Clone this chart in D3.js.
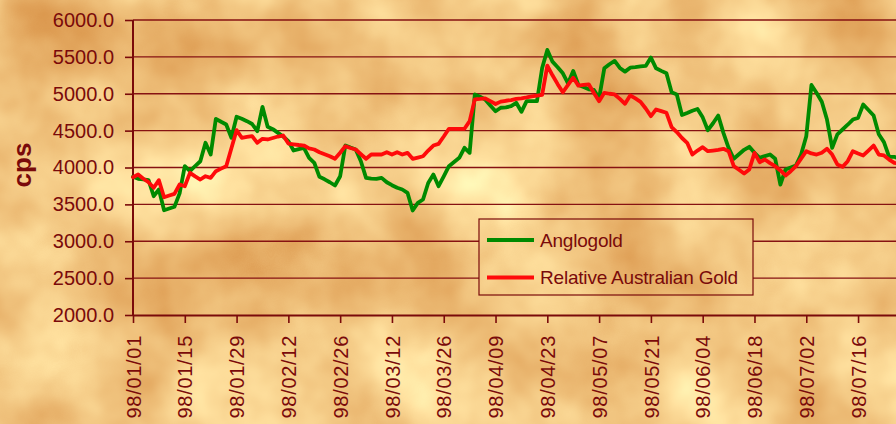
<!DOCTYPE html>
<html><head><meta charset="utf-8">
<script src="https://cdn.jsdelivr.net/npm/d3@7"></script>
<style>
html,body{margin:0;padding:0;overflow:hidden;background:#F0C47E;}
text{font-family:"Liberation Sans",Arial,sans-serif;fill:#7A0A0A;}
</style></head>
<body>
<svg id="chart" width="896" height="424"></svg>
<script>
// ---- data ----
const seriesNames = ["Anglogold", "Relative Australian Gold"];
const seriesColors = ["#008A00", "#FF0A0A"];
const tickLabels = ["98/01/01","98/01/15","98/01/29","98/02/12","98/02/26","98/03/12","98/03/26",
  "98/04/09","98/04/23","98/05/07","98/05/21","98/06/04","98/06/18","98/07/02","98/07/16"];
const yTicks = [2000,2500,3000,3500,4000,4500,5000,5500,6000];
const anglogold = [3874,3847,3838,3828,3611,3702,3421,3444,3467,3650,
  4018,3950,4020,4085,4335,4176,4660,4620,4583,4403,
  4688,4660,4628,4590,4492,4823,4552,4520,4470,4420,
  4357,4230,4250,4267,4131,4064,3874,3840,3800,3756,
  3882,4298,4270,4244,4085,3860,3850,3845,3860,3800,
  3760,3725,3702,3657,3417,3521,3566,3790,3905,3746,
  3880,4018,4075,4131,4267,4199,4990,4960,4922,4840,
  4763,4810,4815,4831,4877,4755,4899,4899,4899,5350,
  5594,5435,5360,5277,5142,5309,5119,5090,5060,5051,
  4938,5345,5400,5445,5350,5300,5354,5360,5370,5377,
  5490,5345,5310,5277,5019,4991,4712,4740,4770,4793,
  4680,4506,4600,4705,4470,4267,4118,4180,4240,4281,
  4199,4131,4155,4176,4118,3769,3973,4000,4027,4176,
  4424,5119,5010,4892,4650,4267,4450,4515,4580,4650,
  4673,4854,4780,4705,4450,4344,4145,4145,4120];
const relAustralianGold = [3868,3905,3847,3801,3725,3828,3597,3620,3643,3769,
  3746,3928,3880,3837,3882,3860,3950,3985,4018,4262,
  4506,4403,4414,4425,4335,4389,4380,4400,4420,4434,
  4325,4315,4305,4298,4260,4244,4207,4180,4153,4118,
  4200,4289,4265,4244,4180,4118,4176,4176,4176,4207,
  4176,4207,4176,4199,4118,4135,4153,4230,4298,4321,
  4420,4525,4525,4525,4525,4628,4925,4930,4938,4900,
  4861,4893,4905,4915,4930,4938,4950,4965,4975,4984,
  5381,5250,5130,5020,5120,5218,5110,5120,5128,5010,
  4899,5013,5000,4990,4930,4864,4977,4936,4891,4800,
  4696,4787,4765,4742,4547,4480,4400,4335,4176,4230,
  4275,4221,4230,4240,4253,4221,4018,3970,3919,3973,
  4199,4072,4108,4060,4018,3960,3892,3950,4018,4120,
  4221,4190,4176,4200,4253,4176,4041,4009,4085,4221,
  4190,4163,4230,4298,4176,4163,4108,4063,4050];

(function () {
// categories: week days starting 1998-01-01
const fmt = d3.utcFormat("%y/%m/%d");
const categories = d3.utcDay.range(new Date(Date.UTC(1998,0,1)), new Date(Date.UTC(1998,8,1)))
  .filter(d => d.getUTCDay() !== 0 && d.getUTCDay() !== 6)
  .slice(0, anglogold.length).map(fmt);

// ---- layout ----
const W = 896, H = 424;
const mLeft = 133, mTop = 20, mBottom = 315;
const step = 5.179;
const mRight = mLeft + step * (categories.length - 1);
const maroon = "#7A0A0A";

const svg = d3.select("#chart");
const defs = svg.append("defs");
const f = defs.append("filter").attr("id","paper")
  .attr("filterUnits","userSpaceOnUse").attr("primitiveUnits","userSpaceOnUse")
  .attr("x",0).attr("y",0).attr("width",W).attr("height",H)
  .attr("color-interpolation-filters","sRGB");
f.append("feTurbulence").attr("type","fractalNoise").attr("baseFrequency","0.009 0.009")
  .attr("numOctaves",4).attr("seed",5).attr("result","n");
f.append("feColorMatrix").attr("type","matrix")
  .attr("values","-0.22 0 0 0 1.06  -0.45 0 0 0 1.005  -0.5 0 0 0 0.76  0 0 0 0 1");

defs.append("clipPath").attr("id","legclip").append("rect")
  .attr("x",479).attr("y",219).attr("width",274).attr("height",76);

svg.append("rect").attr("width",W).attr("height",H).attr("fill","#F0C47E").attr("filter","url(#paper)");

const x = d3.scalePoint().domain(categories).range([mLeft, mRight]);
const y = d3.scaleLinear().domain([2000, 6000]).range([mBottom, mTop]);

// gridlines
svg.append("g").selectAll("line").data(yTicks.filter(v => v > 2000)).join("line")
  .attr("x1", mLeft).attr("x2", W + 10)
  .attr("y1", d => y(d)).attr("y2", d => y(d))
  .attr("stroke", "#861212").attr("stroke-width", 1.4);

// legend background (same paper texture, hides gridlines)
svg.append("rect").attr("width",W).attr("height",H).attr("fill","#F0C47E")
  .attr("filter","url(#paper)").attr("clip-path","url(#legclip)");

// axes
const yAxis = svg.append("g").attr("transform", `translate(${mLeft},0)`)
  .call(d3.axisLeft(y).tickValues(yTicks).tickSize(8).tickPadding(11).tickFormat(d3.format(".1f")));
yAxis.selectAll("text").attr("font-size", 20).attr("fill", maroon)
  .style("font-family","'Liberation Sans',Arial,sans-serif");
yAxis.selectAll("line").attr("stroke", maroon).attr("stroke-width", 1.6);
yAxis.select(".domain").attr("stroke", maroon).attr("stroke-width", 2).attr("d", `M0,${mBottom}V${mTop}`);

const xAxis = svg.append("g").attr("transform", `translate(0,${mBottom})`)
  .call(d3.axisBottom(x).tickValues(tickLabels).tickSize(8).tickSizeOuter(0));
xAxis.select(".domain").attr("stroke", maroon).attr("stroke-width", 2);
xAxis.selectAll("line").attr("stroke", maroon).attr("stroke-width", 1.6);
xAxis.selectAll("text")
  .attr("font-size", 20).attr("fill", maroon).attr("letter-spacing", "0.7px")
  .style("font-family","'Liberation Sans',Arial,sans-serif")
  .attr("text-anchor", "end")
  .attr("transform", "rotate(-90)")
  .attr("x", -20).attr("y", 0).attr("dy", "0.36em");

// y axis title
svg.append("text").attr("transform", "translate(31,165) rotate(-90)")
  .attr("text-anchor", "middle").attr("font-size", 26).attr("font-weight", "bold")
  .attr("fill", maroon).text("cps");

// lines
const series = [anglogold, relAustralianGold];
const line = d3.line().x((d, i) => x(categories[i])).y(d => y(d));
svg.append("g").selectAll("path").data(series).join("path")
  .attr("d", line).attr("fill", "none")
  .attr("stroke", (d, i) => seriesColors[i]).attr("stroke-width", 3.8)
  .attr("stroke-linejoin", "round").attr("stroke-linecap", "round");

// legend
const leg = svg.append("g");
leg.append("rect").attr("x",479).attr("y",219).attr("width",274).attr("height",76)
  .attr("fill","none").attr("stroke", maroon).attr("stroke-width",1.2);
const items = leg.selectAll("g.item").data(seriesNames).join("g").attr("class","item")
  .attr("transform", (d, i) => `translate(0,${240 + i * 37.5})`);
items.append("line").attr("x1",487).attr("x2",534).attr("y1",0).attr("y2",0)
  .attr("stroke", (d, i) => seriesColors[i]).attr("stroke-width",4);
items.append("text").attr("x",540).attr("y",0).attr("dy","0.36em")
  .attr("font-size",19).attr("fill",maroon).attr("letter-spacing","-0.2px").text(d => d);
})();
</script>
</body></html>
